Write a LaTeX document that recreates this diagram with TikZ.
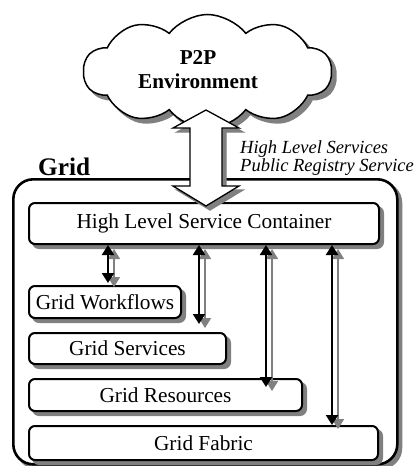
\documentclass[tikz,border=0pt]{standalone}
\usepackage{fontspec}
\setmainfont{Liberation Serif}
\usetikzlibrary{shapes.symbols,arrows.meta}
\definecolor{shd}{RGB}{128,128,128}
\begin{document}
\begin{tikzpicture}[x=1pt,y=-1pt,
  shadowfill/.style={fill=shd,draw=shd},
  layer/.style={draw,line width=2pt,rounded corners=6pt,fill=white,
    anchor=north west,inner sep=0pt,font=\fontsize{21.3}{24}\selectfont},
  cloudstyle/.style={cloud,line width=1.5pt,cloud puffs=10,cloud puff arc=105,
    cloud ignores aspect,minimum width=248pt,minimum height=114pt,inner sep=0pt},
  dbl/.style={{Triangle[width=12pt,length=10pt]}-{Triangle[width=12pt,length=10pt]},line width=2.2pt},
  dblshadow/.style={dbl,shd,line width=1.6pt,transform canvas={xshift=6pt,yshift=-4pt}}]
\useasboundingbox (0,0) rectangle (415,466);
% cloud
\node[cloudstyle,shadowfill] (cloudsh) at (212,76) {};
\node[cloudstyle,draw,fill=white] (cloud) at (207.5,71.5) {};
\node[font=\bfseries\fontsize{21.2}{24}\selectfont,align=center,inner sep=0pt] (p2p) at (198,70) {P2P\\Environment};
% outer grid box
\filldraw[shadowfill,line width=2.6pt,rounded corners=20pt] (17,183) rectangle (401,468);
\node[draw,line width=2.6pt,rounded corners=20pt,fill=white,anchor=north west,inner sep=0pt,
  minimum width=384pt,minimum height=285pt] (grid) at (12,178) {};
\node[anchor=base west,inner sep=0pt,font=\bfseries\fontsize{25.3}{28}\selectfont] (gridlbl) at (38,175) {Grid};
% layers (shadows first)
\begin{scope}[shift={(5,5)},line width=2pt,rounded corners=6pt]
  \filldraw[shadowfill] (28,202) rectangle ++(350,41);
  \filldraw[shadowfill] (28,285) rectangle ++(152,32);
  \filldraw[shadowfill] (28,332) rectangle ++(197,31);
  \filldraw[shadowfill] (28,378) rectangle ++(273,32);
  \filldraw[shadowfill] (28,425) rectangle ++(349,34);
\end{scope}
\node[layer,minimum width=350pt,minimum height=41pt] (hlsc) at (28,202) {High Level Service Container};
\node[layer,minimum width=152pt,minimum height=32pt] (gw) at (28,285) {Grid Workflows};
\node[layer,minimum width=197pt,minimum height=31pt] (gs) at (28,332) {Grid Services};
\node[layer,minimum width=273pt,minimum height=32pt] (gr) at (28,378) {Grid Resources};
\node[layer,minimum width=349pt,minimum height=34pt] (gf) at (28,425) {Grid Fabric};
% big hollow arrow
\filldraw[shadowfill,line width=1.3pt,line join=miter,shift={(4,4)}]
  (206,110) -- (239,128) -- (222,128) -- (222,186) -- (239,186) -- (206,206)
  -- (173,186) -- (190,186) -- (190,128) -- (173,128) -- cycle;
\draw[line width=1.3pt,fill=white,line join=miter]
  (206,110) -- (239,128) -- (222,128) -- (222,186) -- (239,186) -- (206,206)
  -- (173,186) -- (190,186) -- (190,128) -- (173,128) -- cycle;
\node[anchor=base west,inner sep=0pt,font=\itshape\fontsize{18.5}{20}\selectfont] (hls) at (240,153) {High Level Services};
\node[anchor=base west,inner sep=0pt,font=\itshape\fontsize{18.5}{20}\selectfont] (prs) at (240,171) {Public Registry Service};
% double arrows
\coordinate (a1) at (108,0);
\coordinate (a2) at (199,0);
\coordinate (a3) at (266,0);
\coordinate (a4) at (332,0);
\draw[dblshadow,shorten >=2pt] (hlsc.south -| a1) -- (gw.north -| a1);
\draw[dblshadow,shorten >=8pt] (hlsc.south -| a2) -- (gs.north -| a2);
\draw[dblshadow,shorten >=-9pt] (hlsc.south -| a3) -- (gr.north -| a3);
\draw[dblshadow] (hlsc.south -| a4) -- (gf.north -| a4);
\draw[dbl,shorten >=2pt] (hlsc.south -| a1) -- (gw.north -| a1);
\draw[dbl,shorten >=8pt] (hlsc.south -| a2) -- (gs.north -| a2);
\draw[dbl,shorten >=-9pt] (hlsc.south -| a3) -- (gr.north -| a3);
\draw[dbl] (hlsc.south -| a4) -- (gf.north -| a4);
\end{tikzpicture}
\end{document}
